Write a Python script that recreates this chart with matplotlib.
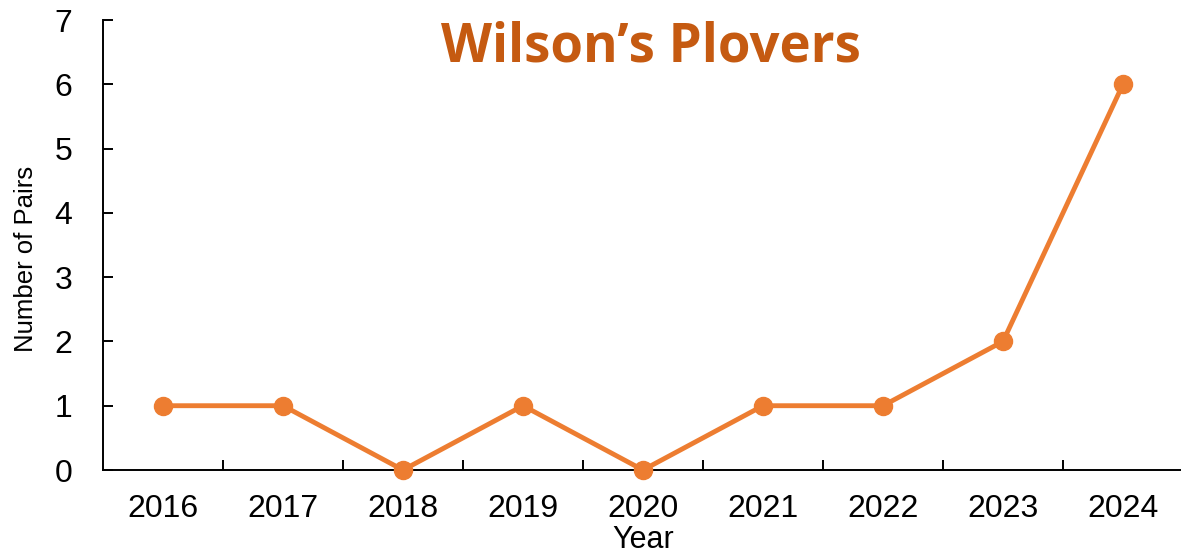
import matplotlib
matplotlib.use("Agg")
import matplotlib.pyplot as plt

years = ["2016", "2017", "2018", "2019", "2020", "2021", "2022", "2023", "2024"]
pairs = [1, 1, 0, 1, 0, 1, 1, 2, 6]

line_color = "#ED7D31"
title_color = "#C55A11"

plt.rcParams["font.family"] = ["Liberation Sans", "DejaVu Sans"]

fig = plt.figure(figsize=(11.81, 5.55), dpi=100)
ax = fig.add_axes([103 / 1181, 85 / 555, 1080 / 1181, 450 / 555])

x = list(range(len(years)))
ax.plot(x, pairs, color=line_color, lw=3.5, marker="o", markersize=13,
        clip_on=False, zorder=3)

ax.set_xlim(-0.5, len(years) - 0.5)
ax.set_ylim(0, 7)
ax.set_yticks(range(0, 8))

# year labels sit in the middle of each slot, ticks go between slots
ax.set_xticks(x)
ax.set_xticklabels(years)
ax.set_xticks([i + 0.5 for i in x[:-1]], minor=True)
ax.tick_params(axis="x", which="major", length=0, pad=17, labelsize=23)
ax.tick_params(axis="x", which="minor", direction="in", length=7, width=1.4)
ax.tick_params(axis="y", direction="in", length=7, width=1.4, pad=22, labelsize=23)

for side in ["top", "right"]:
    ax.spines[side].set_visible(False)
for side in ["left", "bottom"]:
    ax.spines[side].set_linewidth(1.4)

ax.set_xlabel("Year", fontsize=22, labelpad=1)
ax.set_ylabel("Number of Pairs", fontsize=18.5)
ax.yaxis.set_label_coords(-0.06, 0.47)

fig.text(651 / 1181, 1 - 61 / 555, "Wilson’s Plovers", ha="center", va="baseline",
         fontsize=38, fontweight="bold", color=title_color, family="Open Sans")

fig.savefig("out.png", dpi=100)
